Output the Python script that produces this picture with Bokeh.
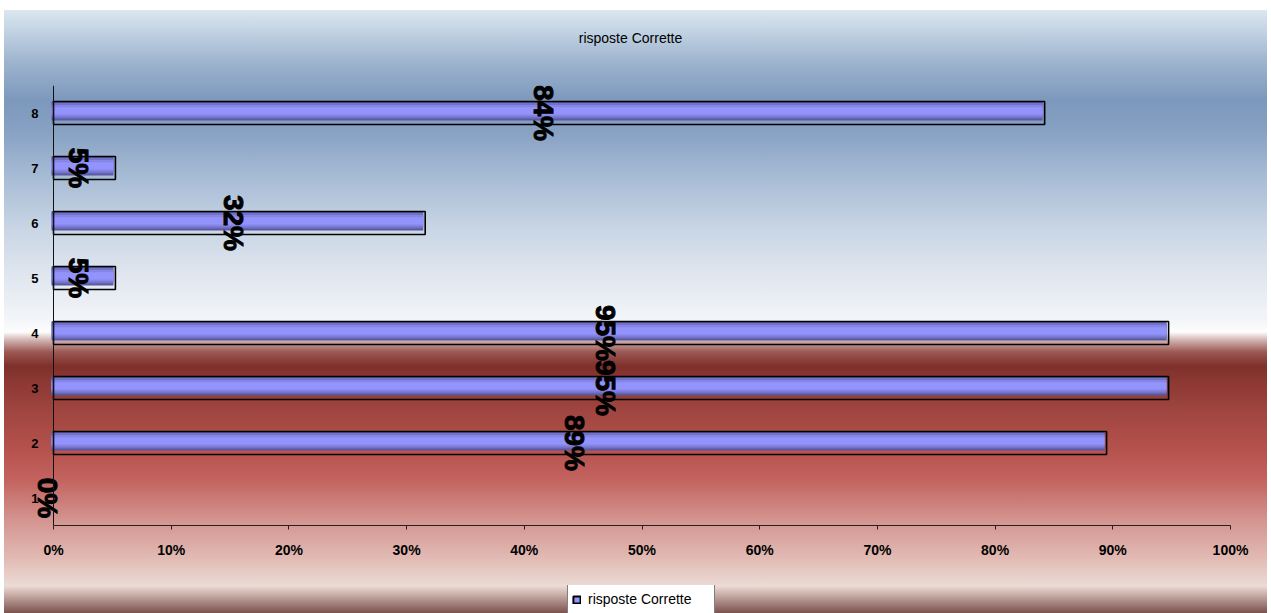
import math

from bokeh.core.properties import value
from bokeh.embed import file_html
from bokeh.layouts import column
from bokeh.models import (ColumnDataSource, FixedTicker, Legend, LegendItem,
                          NumeralTickFormatter, Range1d, Span)
from bokeh.plotting import figure
from bokeh.resources import INLINE

# --- data -------------------------------------------------------------------
domande = [1, 2, 3, 4, 5, 6, 7, 8]
corrette = [0.0, 0.8947, 0.9474, 0.9474, 0.0526, 0.3158, 0.0526, 0.8421]
etichette = [f"{round(v * 100)}%" for v in corrette]
tick_pct = [0.0, 0.1, 0.2, 0.3, 0.4, 0.5, 0.6, 0.7, 0.8, 0.9, 1.0]
titolo = "risposte Corrette"
serie = "risposte Corrette"

FONT = "Liberation Sans"


def bare_strip(height):
    """A transparent, axis-less figure used for the title and legend rows."""
    f = figure(width=1271, height=height, output_backend="svg",
               toolbar_location=None, x_range=Range1d(0, 1), y_range=Range1d(0, 1),
               x_axis_type=None, y_axis_type=None,
               min_border_left=0, min_border_right=0,
               min_border_top=0, min_border_bottom=0)
    f.background_fill_alpha = 0
    f.border_fill_alpha = 0
    f.outline_line_color = None
    f.grid.visible = False
    return f


# --- title row --------------------------------------------------------------
head = bare_strip(85)
head.title.text = titolo
head.title.align = "center"
head.title.text_font = FONT
head.title.text_font_style = "normal"
head.title.text_font_size = "14px"
head.title.text_color = "#000000"
head.title.standoff = 54

# --- main chart -------------------------------------------------------------
# frame spans a little left of 0 so the "0%" label is not clipped
x_pad = 23 / 1177
chart = figure(width=1271, height=500, output_backend="svg", toolbar_location=None,
               x_range=Range1d(-x_pad, 1), y_range=Range1d(0.5, 8.5),
               min_border_left=30, min_border_right=41,
               min_border_top=0, min_border_bottom=60)
chart.background_fill_alpha = 0
chart.border_fill_alpha = 0
chart.outline_line_color = None
chart.grid.visible = False
chart.title.visible = False

xa = chart.xaxis[0]
xa.ticker = FixedTicker(ticks=tick_pct)
xa.formatter = NumeralTickFormatter(format="0%")
xa.bounds = (0, 1)
xa.major_tick_out = 4
xa.major_tick_in = 0
xa.minor_tick_line_color = None
xa.major_label_standoff = 12
xa.major_label_text_font = FONT
xa.major_label_text_font_style = "bold"
xa.major_label_text_font_size = "14px"
xa.major_label_text_color = "#000000"
xa.axis_line_color = "#222222"
xa.major_tick_line_color = "#222222"

ya = chart.yaxis[0]
ya.ticker = FixedTicker(ticks=domande)
ya.major_tick_out = 0
ya.major_tick_in = 0
ya.minor_tick_line_color = None
ya.major_label_standoff = -8
ya.major_label_text_font = FONT
ya.major_label_text_font_style = "bold"
ya.major_label_text_font_size = "13px"
ya.major_label_text_color = "#000000"
ya.axis_line_color = None

# category axis line drawn at 0%
chart.add_layout(Span(location=0, dimension="height", line_color="#111111",
                      line_width=1))

# bars: shaded front face with a black outline set slightly lower
shift_x = 0.0017          # front face ~2px to the left
shift_y = 0.04            # ... and ~2px higher
bars = [(d, v) for d, v in zip(domande, corrette) if v > 0]
src = ColumnDataSource(dict(
    y=[d for d, _ in bars],
    yf=[d + shift_y for d, _ in bars],
    left=[-shift_x for _ in bars],
    right=[v - shift_x for _, v in bars],
    right_o=[v for _, v in bars],
))

bands = [(0.35, "#5a5aa4"), (0.28, "#7272c6"), (0.21, "#8585e6"), (0.13, "#9393fd")]
for h, col in bands:
    chart.hbar(y="yf", left="left", right="right", height=h, source=src,
               fill_color=col, line_color=None)

chart.hbar(y="y", left=0, right="right_o", height=0.42, source=src,
           fill_alpha=0, line_color="#000000", line_width=1.6)

# value labels, rotated
lab_src = ColumnDataSource(dict(
    x=[v / 2 for v in corrette], y=domande, t=etichette))
chart.text(x="x", y="y", text="t", source=lab_src, angle=-math.pi / 2,
           text_align="center", text_baseline="middle", x_offset=-6,
           text_font=value(FONT), text_font_style="bold", text_font_size="28px",
           text_color="#000000", text_outline_color="#000000")

# --- legend row -------------------------------------------------------------
foot = bare_strip(28)
# swatch renderer for the legend key, parked outside the visible range
swatch = ColumnDataSource(dict(x=[-1.0], y=[-1.0]))
sw_fill = foot.rect(x="x", y="y", width=1, height=1, source=swatch,
                    fill_color="#9393fd", line_color="#000000", line_width=2)

legend = Legend(items=[LegendItem(label=serie, renderers=[sw_fill])],
                location=(537, -2), orientation="vertical")
legend.padding = 4
legend.spacing = 0
legend.margin = 0
legend.glyph_width = 9
legend.glyph_height = 9
legend.label_standoff = 7
legend.label_height = 22
legend.label_width = 122
legend.label_text_font = FONT
legend.label_text_font_size = "14px"
legend.label_text_color = "#000000"
legend.background_fill_color = "#ffffff"
legend.background_fill_alpha = 1
legend.border_line_color = "#000000"
legend.border_line_width = 1
foot.add_layout(legend, "center")

# --- page -------------------------------------------------------------------
p = column(head, chart, foot, spacing=0)

stops = [(10, "#dbe7f1"), (30, "#c3d4e4"), (60, "#a0b6cf"), (100, "#7c98bc"),
         (130, "#87a1c3"), (180, "#a9bdd6"), (230, "#c9d6e5"), (280, "#e2e8f0"),
         (322, "#f4f6f9"), (332, "#fdfdfd"), (340, "#d2b4b2"), (352, "#9c5853"),
         (366, "#7f302b"), (380, "#8b3732"), (410, "#9f453f"), (450, "#b6524d"),
         (480, "#c3635f"), (520, "#d4948f"), (560, "#e2bcb6"), (586, "#ecdbd5"),
         (595, "#c8aca6"), (603, "#a4837e"), (613, "#7b524d")]
grad = ", ".join(f"{c} {y - 10}px" for y, c in stops)
p.styles = {
    "background-color": "white",
    "background-image": f"linear-gradient(to bottom, {grad})",
    "background-repeat": "no-repeat",
    "background-position": "4px 10px",
    "background-size": "1263px 603px",
}

open("out.html", "w").write(file_html(p, INLINE))
